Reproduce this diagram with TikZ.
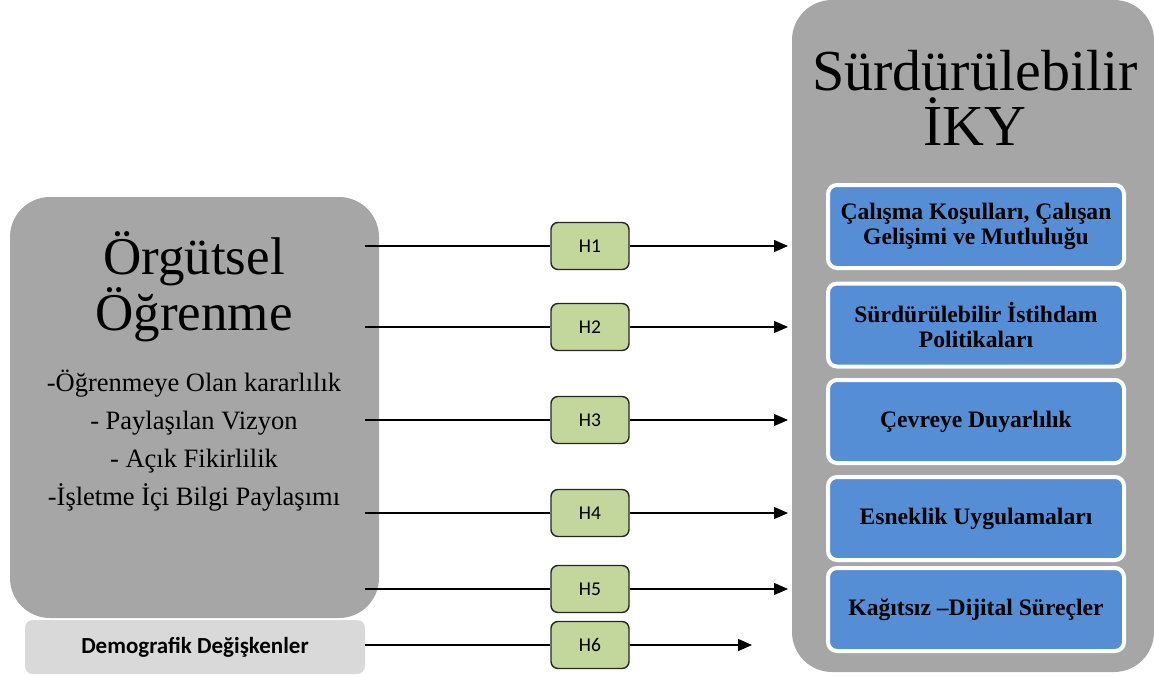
\documentclass[tikz,border=0pt]{standalone}
\usepackage{fontspec}
\setmainfont{Liberation Serif}
\newfontfamily\calibri{Carlito}
\usetikzlibrary{arrows.meta,positioning}
\pgfdeclarelayer{background}
\pgfsetlayers{background,main}
\definecolor{panelgray}{HTML}{A6A6A6}
\definecolor{demogray}{HTML}{D9D9D9}
\definecolor{dimblue}{HTML}{558ED5}
\definecolor{hypgreen}{HTML}{C3D69B}
\tikzset{
  hyp/.style={draw=black!85,line width=1.4pt,fill=hypgreen,rounded corners=7pt,
    minimum width=78pt,minimum height=47pt,font=\calibri\fontsize{19.5}{22}\selectfont},
  dim/.style={draw=white,line width=4pt,fill=dimblue,rounded corners=9pt,
    minimum width=296pt,minimum height=83pt,align=center,
    font=\bfseries\fontsize{23.6}{24.5}\selectfont},
  panel/.style={fill=panelgray,rounded corners=40pt,inner sep=0pt},
  link/.style={-{Triangle[length=14pt,width=12pt]},line width=1.3pt},
}
\newcommand{\Hyp}[2]% pos, name
{\node[hyp] (#2) at (#1) {#2};}
\newcommand{\Dim}[3]% pos, name, text
{\node[dim] (#2) at (#1) {#3};}
\newcommand{\Arrow}[3]% from, via, to
{ \draw[line width=1.3pt] (#1) -- (#2);
  \draw[link] (#2) -- (#3);
}

\begin{document}
\begin{tikzpicture}[x=1pt,y=-1pt]
  \useasboundingbox (0,0) rectangle (1154,677);
  \begin{pgfonlayer}{background}
    \node[panel,minimum width=369pt,minimum height=421pt] (OO) at (194.5,407.5) {};
    \node[panel,minimum width=362pt,minimum height=672pt] (IKY) at (973,336) {};
    \node[fill=demogray,rounded corners=8pt,minimum width=340pt,minimum height=54pt,
      font=\calibri\bfseries\fontsize{23}{26}\selectfont] (DD) at (195,647) {Demografik Değişkenler};
  \end{pgfonlayer}
  \node[font=\fontsize{53}{47}\selectfont,align=center,anchor=base] (OOtitle) at (194,330) {Örgütsel\\Öğrenme};
  \node[font=\fontsize{26.5}{37.7}\selectfont,align=center,anchor=base] (OOitems) at (194,505)
    {-Öğrenmeye Olan kararlılık\\- Paylaşılan Vizyon\\- Açık Fikirlilik\\-İşletme İçi Bilgi Paylaşımı};
  \node[font=\fontsize{58}{55}\selectfont,align=center,anchor=base] (IKYtitle) at (975,145) {Sürdürülebilir\\İKY};
  \Dim{976,226.5}{D1}{Çalışma Koşulları, Çalışan\\Gelişimi ve Mutluluğu}
  \Dim{976,325}{D2}{Sürdürülebilir İstihdam\\Politikaları}
  \Dim{976,421.5}{D3}{Çevreye Duyarlılık}
  \Dim{976,518.5}{D4}{Esneklik Uygulamaları}
  \Dim{976,609.5}{D5}{Kağıtsız –Dijital Süreçler}
  \Hyp{590,246}{H1}
  \Hyp{590,327}{H2}
  \Hyp{590,420}{H3}
  \Hyp{590,513}{H4}
  \Hyp{590,589}{H5}
  \Hyp{590,645}{H6}
  \coordinate (s1) at (365,246);
  \coordinate (s2) at (365,327);
  \coordinate (s3) at (365,420);
  \coordinate (s4) at (365,513);
  \coordinate (s5) at (365,589);
  \coordinate (s6) at (365,645);
  \coordinate (t1) at (788,246);
  \coordinate (t2) at (788,327);
  \coordinate (t3) at (788,420);
  \coordinate (t4) at (788,513);
  \coordinate (t5) at (788,589);
  \coordinate (t6) at (752,645);
  \Arrow{s1}{H1}{t1}
  \Arrow{s2}{H2}{t2}
  \Arrow{s3}{H3}{t3}
  \Arrow{s4}{H4}{t4}
  \Arrow{s5}{H5}{t5}
  \Arrow{s6}{H6}{t6}
\end{tikzpicture}
\end{document}
